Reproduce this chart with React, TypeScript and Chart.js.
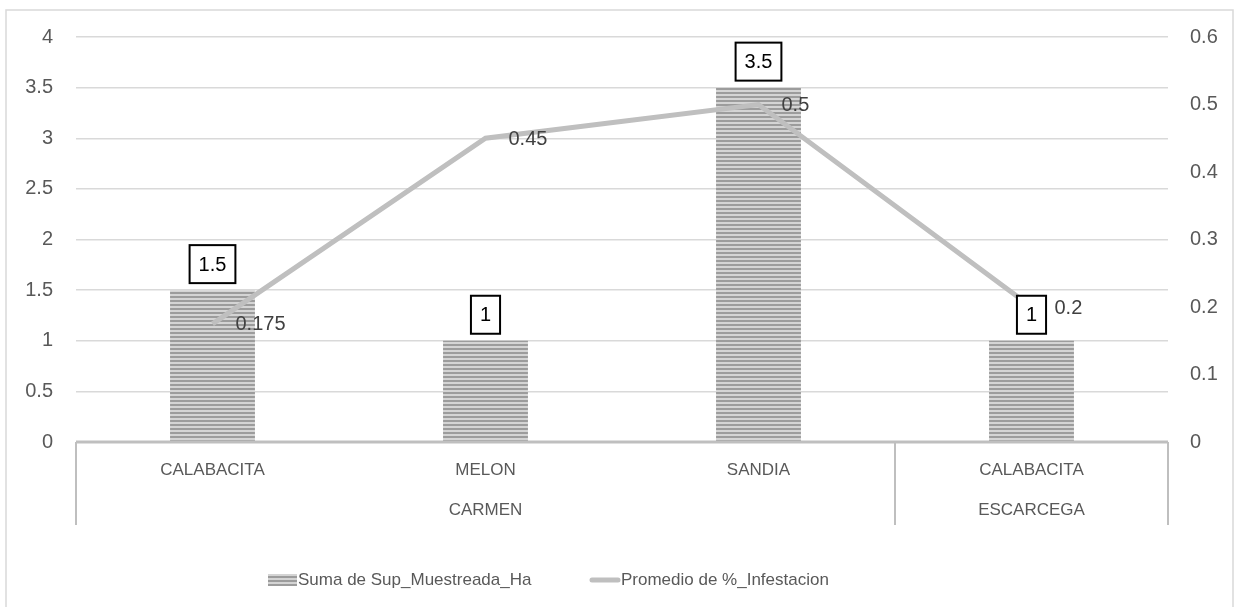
import React, { useEffect, useRef } from "react";
import { Chart, registerables } from "chart.js";

Chart.register(...registerables);

const categories = ["CALABACITA", "MELON", "SANDIA", "CALABACITA"];
const groups = ["CARMEN", "CARMEN", "CARMEN", "ESCARCEGA"];
const supMuestreada = [1.5, 1, 3.5, 1];
const infestacion = [0.175, 0.45, 0.5, 0.2];
const leftTicks = [0, 0.5, 1, 1.5, 2, 2.5, 3, 3.5, 4];
const rightTicks = [0, 0.1, 0.2, 0.3, 0.4, 0.5, 0.6];
const barLabel = "Suma de Sup_Muestreada_Ha";
const lineLabel = "Promedio de %_Infestacion";

const FONT = "'Liberation Sans', Arial, sans-serif";
const TEXT = "#595959";
const LINE_COLOR = "#bfbfbf";

function makePattern(): CanvasPattern | string {
  const c = document.createElement("canvas");
  c.width = 4;
  c.height = 4;
  const g = c.getContext("2d");
  if (!g) return "#aaa";
  g.fillStyle = "#d4d4d4";
  g.fillRect(0, 0, 4, 4);
  g.fillStyle = "#9c9c9c";
  g.fillRect(0, 0, 4, 2);
  const p = g.createPattern(c, "repeat");
  return p || "#aaa";
}

export default function App() {
  const ref = useRef<HTMLCanvasElement>(null);

  useEffect(() => {
    if (!ref.current) return;
    const pattern = makePattern();

    const decor = {
      id: "decor",
      beforeDraw(chart: any) {
        const ctx = chart.ctx;
        ctx.save();
        ctx.strokeStyle = "#d9d9d9";
        ctx.lineWidth = 1.5;
        ctx.strokeRect(6, 10, 1227, 605);
        ctx.restore();
      },
      afterDatasetsDraw(chart: any) {
        const ctx = chart.ctx;
        ctx.save();
        // line labels
        const lineMeta = chart.getDatasetMeta(0);
        ctx.font = `20px ${FONT}`;
        ctx.fillStyle = "#404040";
        ctx.textAlign = "left";
        ctx.textBaseline = "middle";
        lineMeta.data.forEach((pt: any, i: number) => {
          ctx.fillText(String(infestacion[i]), pt.x + 23, pt.y + 1);
        });
        // bar labels with boxes
        const barMeta = chart.getDatasetMeta(1);
        barMeta.data.forEach((bar: any, i: number) => {
          const txt = String(supMuestreada[i]);
          ctx.font = `20px ${FONT}`;
          const w = ctx.measureText(txt).width + 18;
          const h = 38;
          const bx = bar.x - w / 2;
          const by = bar.y - 7 - h;
          ctx.fillStyle = "#ffffff";
          ctx.fillRect(bx, by, w, h);
          ctx.strokeStyle = "#000000";
          ctx.lineWidth = 2;
          ctx.strokeRect(bx, by, w, h);
          ctx.fillStyle = "#000000";
          ctx.textAlign = "center";
          ctx.textBaseline = "middle";
          ctx.fillText(txt, bar.x, by + h / 2 + 1);
        });
        ctx.restore();
      },
      afterDraw(chart: any) {
        const ctx = chart.ctx;
        const x = chart.scales.x;
        const area = chart.chartArea;
        const band = (area.right - area.left) / categories.length;
        ctx.save();
        // category box
        ctx.strokeStyle = "#bfbfbf";
        ctx.lineWidth = 3;
        ctx.beginPath();
        ctx.moveTo(area.left, area.bottom);
        ctx.lineTo(area.right, area.bottom);
        ctx.stroke();
        ctx.lineWidth = 2;
        const boxBottom = area.bottom + 83;
        const edges: number[] = [area.left];
        for (let i = 1; i < groups.length; i++) {
          if (groups[i] !== groups[i - 1]) edges.push(x.getPixelForValue(i) - band / 2);
        }
        edges.push(area.right);
        edges.forEach((ex) => {
          ctx.beginPath();
          ctx.moveTo(ex, area.bottom);
          ctx.lineTo(ex, boxBottom);
          ctx.stroke();
        });
        // level 1 labels
        ctx.fillStyle = TEXT;
        ctx.font = `17px ${FONT}`;
        ctx.textAlign = "center";
        ctx.textBaseline = "middle";
        categories.forEach((c, i) => {
          ctx.fillText(c, x.getPixelForValue(i), area.bottom + 28);
        });
        // level 2 labels
        let start = 0;
        for (let i = 1; i <= groups.length; i++) {
          if (i === groups.length || groups[i] !== groups[start]) {
            const l = x.getPixelForValue(start) - band / 2;
            const r = x.getPixelForValue(i - 1) + band / 2;
            ctx.fillText(groups[start], (l + r) / 2, area.bottom + 68);
            start = i;
          }
        }
        // legend
        const ly = 580;
        ctx.fillStyle = pattern as any;
        ctx.fillRect(268, ly - 6, 29, 12);
        ctx.fillStyle = TEXT;
        ctx.textAlign = "left";
        ctx.fillText(barLabel, 298, ly);
        ctx.strokeStyle = LINE_COLOR;
        ctx.lineWidth = 5;
        ctx.lineCap = "round";
        ctx.beginPath();
        ctx.moveTo(592, ly);
        ctx.lineTo(618, ly);
        ctx.stroke();
        ctx.fillText(lineLabel, 621, ly);
        ctx.restore();
      },
    };

    const chart = new Chart(ref.current, {
      type: "bar",
      data: {
        labels: categories,
        datasets: [
          {
            type: "line",
            label: lineLabel,
            data: infestacion,
            yAxisID: "y1",
            borderColor: LINE_COLOR,
            backgroundColor: LINE_COLOR,
            borderWidth: 5,
            pointRadius: 0,
            tension: 0,
            order: 0,
          } as any,
          {
            type: "bar",
            label: barLabel,
            data: supMuestreada,
            yAxisID: "y",
            backgroundColor: pattern as any,
            borderWidth: 0,
            categoryPercentage: 0.311,
            barPercentage: 1,
            order: 1,
          },
        ],
      },
      options: {
        responsive: false,
        animation: false,
        layout: { padding: { top: 37, left: 0, right: 0, bottom: 0 } },
        plugins: {
          legend: { display: false },
          tooltip: { enabled: false },
        },
        scales: {
          x: {
            offset: true,
            grid: { display: false },
            border: { display: false },
            ticks: { display: false },
            afterFit: (s: any) => {
              s.height = 165;
            },
          },
          y: {
            position: "left",
            min: 0,
            max: 4,
            afterBuildTicks: (s: any) => {
              s.ticks = leftTicks.map((v) => ({ value: v }));
            },
            afterFit: (s: any) => {
              s.width = 76;
            },
            grid: { color: "#d9d9d9", lineWidth: 1.5, drawTicks: false },
            border: { display: false },
            ticks: {
              padding: 23,
              color: TEXT,
              font: { family: FONT, size: 20 },
              callback: (v: any) => String(v),
            },
          },
          y1: {
            position: "right",
            min: 0,
            max: 0.6,
            afterBuildTicks: (s: any) => {
              s.ticks = rightTicks.map((v) => ({ value: v }));
            },
            afterFit: (s: any) => {
              s.width = 72;
            },
            grid: { display: false, drawTicks: false },
            border: { display: false },
            ticks: {
              padding: 22,
              color: TEXT,
              font: { family: FONT, size: 20 },
              callback: (v: any) => String(v),
            },
          },
        },
      },
      plugins: [decor],
    });
    return () => chart.destroy();
  }, []);

  return (
    <div style={{ position: "absolute", left: 0, top: 0, width: 1240, height: 607, background: "#fff" }}>
      <canvas ref={ref} width={1240} height={607} style={{ width: 1240, height: 607 }} />
    </div>
  );
}
